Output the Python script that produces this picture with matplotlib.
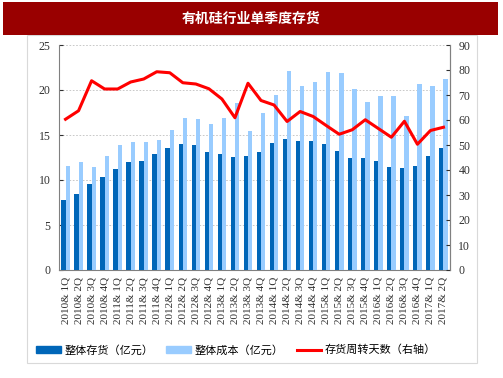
import matplotlib
matplotlib.use("Agg")
import matplotlib.pyplot as plt
import numpy as np
from matplotlib.patches import Rectangle
from matplotlib.lines import Line2D

plt.rcParams['font.family'] = ['Noto Sans CJK SC', 'DejaVu Sans']

quarters = [f"{y}& {q}Q" for y in range(2010, 2018) for q in range(1, 5)][:30]
inventory = [7.8, 8.5, 9.6, 10.3, 11.2, 12.0, 12.1, 12.85, 13.6, 14.0, 13.9, 13.1, 12.85, 12.6, 12.7,
             13.1, 14.1, 14.6, 14.3, 14.3, 14.0, 13.2, 12.5, 12.4, 12.1, 11.4, 11.3, 11.6, 12.7, 13.55]
cost = [11.6, 12.0, 11.4, 12.7, 13.9, 14.2, 14.2, 14.5, 15.6, 16.85, 16.8, 16.2, 16.9, 18.6, 15.4,
        17.4, 19.4, 22.1, 20.4, 20.9, 22.0, 21.9, 20.1, 18.7, 19.3, 19.3, 17.1, 20.7, 20.5, 21.2]
turnover_days = [60.3, 63.7, 75.7, 72.4, 72.4, 75.2, 76.4, 79.3, 78.9, 74.9, 74.4, 72.5, 68.4, 60.9, 74.7,
                 67.8, 66.0, 59.4, 63.4, 61.4, 57.8, 54.3, 56.1, 60.1, 56.6, 53.1, 59.5, 50.3, 55.8, 57.1]

title = "有机硅行业单季度存货"
labels = ["整体存货（亿元）", "整体成本（亿元）", "存货周转天数（右轴）"]
c_dark = "#0066B8"
c_light = "#99CCFF"
c_red = "#FF0000"

W, H = 503, 378
fig = plt.figure(figsize=(W/100, H/100), dpi=100)

# outer frame
fig.patches.append(Rectangle((27/W, (H-363)/H), (477-27)/W, (363-35)/H, transform=fig.transFigure,
                             fill=False, edgecolor="#D9D9D9", linewidth=0.8))
# title bar
fig.patches.append(Rectangle((3/W, (H-35)/H), (498-3)/W, 33/H, transform=fig.transFigure,
                             facecolor="#990000", edgecolor="none"))
fig.text(0.5, (H-19)/H, title, ha="center", va="center", color="white", fontsize=10, fontweight="bold")

ax = fig.add_axes([59/W, (H-270)/H, (450-59)/W, 225/H])
x = np.arange(len(quarters))
bw = 0.33
ax.bar(x - bw/2, inventory, width=bw, color=c_dark, zorder=3)
ax.bar(x + bw/2, cost, width=bw, color=c_light, zorder=3)
ax.set_xlim(-0.5, len(quarters) - 0.5)
ax.set_ylim(0, 25)
ax.set_yticks(range(0, 26, 5))
ax.yaxis.grid(True, linestyle=(0, (2, 2)), color="#BFBFBF", linewidth=0.6, zorder=0)
ax.set_xticks(x)
ax.set_xticklabels(quarters, rotation=90, family="Liberation Serif", fontsize=8)
ax.tick_params(axis='x', length=0, pad=5)
ax.tick_params(axis='y', length=3, direction="in", labelsize=8.5, colors="#303030", pad=6)
for lab in ax.get_yticklabels():
    lab.set_family("Liberation Serif")
for t in ax.get_xticklabels():
    t.set_color("#303030")
for s in ["left", "bottom", "right"]:
    ax.spines[s].set_color("#808080")
    ax.spines[s].set_linewidth(0.8)
ax.spines["top"].set_visible(False)

ax2 = ax.twinx()
ax2.plot(x, turnover_days, color=c_red, linewidth=2.2, zorder=5)
ax2.set_ylim(0, 90)
ax2.set_yticks(range(0, 91, 10))
ax2.tick_params(axis='y', length=3, direction="in", labelsize=8.5, colors="#303030", pad=6)
for lab in ax2.get_yticklabels():
    lab.set_family("Liberation Serif")
for s in ["left", "bottom", "top"]:
    ax2.spines[s].set_visible(False)
ax2.spines["right"].set_color("#808080")
ax2.spines["right"].set_linewidth(0.8)

handles = [Rectangle((0, 0), 1, 1, color=c_dark), Rectangle((0, 0), 1, 1, color=c_light),
           Line2D([0], [0], color=c_red, linewidth=2.2)]
fig.legend(handles, labels, loc="center", bbox_to_anchor=(236/W, (H-350)/H), ncol=3, frameon=False,
           fontsize=8, handlelength=2.2, handleheight=0.6, columnspacing=1.2, handletextpad=0.3,
           borderpad=0, borderaxespad=0)

fig.savefig("out.png", dpi=100)
